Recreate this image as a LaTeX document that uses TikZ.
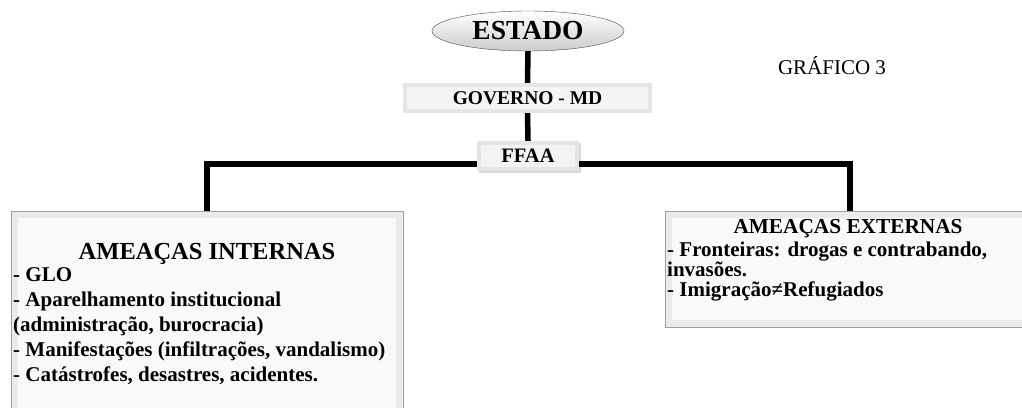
\documentclass[tikz,border=0pt]{standalone}
\usepackage{fontspec}
\setmainfont{Liberation Serif}
\usetikzlibrary{shapes.geometric,shadows}

\tikzset{
	caixa/.style={draw=gray!75, fill=gray!16, inner sep=0pt,
		path picture={\fill[gray!5] ([shift={(7pt,-7pt)}]path picture bounding box.north west) rectangle ([shift={(-7pt,7pt)}]path picture bounding box.south east);}},
	faixa/.style={fill=gray!20, inner sep=0pt,
		path picture={\fill[gray!9] ([shift={(4pt,-4pt)}]path picture bounding box.north west) rectangle ([shift={(-4pt,4pt)}]path picture bounding box.south east);}},
	ligacao/.style={line width=5.5pt},
	texto/.style={inner sep=0pt, font=\bfseries},
}

\begin{document}
\begin{tikzpicture}[x=1pt,y=-1pt]
	\useasboundingbox (0,0) rectangle (1022,407);
	\clip (0,0) rectangle (1022,407);

	\node[ellipse, draw=gray!60!black, top color=white, bottom color=gray!40, minimum width=192pt, minimum height=40pt, inner sep=0pt] (estado) at (528,31) {};
	\node[texto, font=\fontsize{27.5}{30}\selectfont\bfseries] (txtestado) at (528,31) {ESTADO};
	\node[faixa, minimum width=249pt, minimum height=30pt] (governo) at (527.5,98) {};
	\node[texto, font=\fontsize{19.5}{22}\selectfont\bfseries] (txtgoverno) at (527.5,98) {GOVERNO - MD};
	\node[faixa, drop shadow={opacity=0.3, shadow xshift=1.5pt, shadow yshift=-2pt}, minimum width=102pt, minimum height=30pt] (ffaa) at (528,156) {};
	\node[texto, font=\fontsize{20.5}{22}\selectfont\bfseries] (txtffaa) at (528,156) {FFAA};

	\node[font=\fontsize{21}{24}\selectfont] (grafico) at (832,66) {GRÁFICO 3};

	% ameacas
	\node[caixa, minimum width=392pt, minimum height=210pt] (interno) at (207,316) {};
	\node[caixa, minimum width=370pt, minimum height=116pt] (externo) at (850,269) {};

	\node[texto, font=\fontsize{24.5}{26}\selectfont\bfseries] (titinterno) at (207,254) {AMEAÇAS INTERNAS};
	\node[texto, anchor=north west, align=left, font=\fontsize{21}{25}\selectfont\bfseries] (itensinterno) at (13,267) {- GLO\\- Aparelhamento institucional\\(administração, burocracia)\\- Manifestações (infiltrações, vandalismo)\\- Catástrofes, desastres, acidentes.};

	\node[texto, font=\fontsize{21.3}{23}\selectfont\bfseries] (titexterno) at (848,228.5) {AMEAÇAS EXTERNAS};
	\node[texto, anchor=north west, align=left, font=\fontsize{21}{20}\selectfont\bfseries] (itensexterno) at (667,241.5) {- Fronteiras: drogas e contrabando,\\invasões.\\- Imigração≠Refugiados};

	% ligacoes
	\coordinate (juncao) at (528,164);
	\draw[ligacao] (estado.south) -- (governo.north);
	\draw[ligacao] (governo.south) -- (ffaa.north);
	\draw[ligacao] (interno.north) |- (ffaa.west |- juncao);
	\draw[ligacao] (externo.north) |- (ffaa.east |- juncao);
\end{tikzpicture}
\end{document}
